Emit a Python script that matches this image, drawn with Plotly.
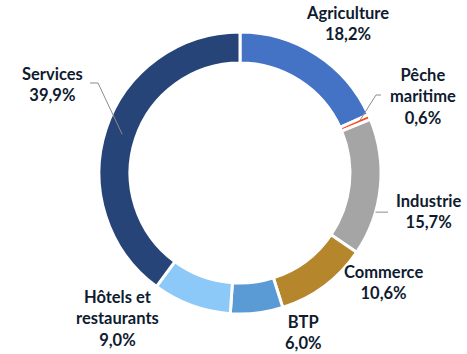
import math
import plotly.graph_objects as go

# Répartition par secteur (%)
secteurs = ["Agriculture", "Pêche maritime", "Industrie", "Commerce", "BTP",
            "Hôtels et restaurants", "Services"]
parts = [18.2, 0.6, 15.7, 10.6, 6.0, 9.0, 39.9]
couleurs = ["#4472C4", "#FF4B1F", "#A5A5A5", "#B5862C", "#5B9BD5",
            "#8CC8F8", "#264478"]
# Libellés affichés (nom sur une ou deux lignes)
noms_affiches = ["Agriculture", "Pêche<br>maritime", "Industrie", "Commerce",
                 "BTP", "Hôtels et<br>restaurants", "Services"]

W, H = 467, 354
CX, CY, R = 240, 173, 141          # centre et rayon de l'anneau (px)
HOLE = 0.78

fig = go.Figure(go.Pie(
    labels=secteurs,
    values=parts,
    sort=False,
    direction="clockwise",
    rotation=0,
    hole=HOLE,
    marker=dict(colors=couleurs, line=dict(color="white", width=3)),
    textinfo="none",
    hoverinfo="label+percent",
    showlegend=False,
    domain=dict(x=[(CX - R) / W, (CX + R) / W],
                y=[1 - (CY + R) / H, 1 - (CY - R) / H]),
))


def fmt(v):
    return f"{v:.1f}".replace(".", ",") + "%"


# Position du texte (centre, px) pour chaque secteur
pos_texte = [(347, 23), (423, 97), (428, 211), (383, 282), (303, 332),
             (117, 318), (52, 85)]

TXT = "#0F1B30"
for nom, v, (tx, ty) in zip(noms_affiches, parts, pos_texte):
    fig.add_annotation(
        x=tx / W, y=1 - ty / H, xref="paper", yref="paper",
        text=f"<b>{nom}<br>{fmt(v)}</b>", showarrow=False,
        font=dict(family="Lato", size=16.5, color=TXT, weight=900),
        align="center", xanchor="center", yanchor="middle",
    )


# Lignes de rappel : point sur l'anneau calculé à partir des angles des parts
def point_anneau(idx, frac, rayon):
    debut = sum(parts[:idx]) / 100 * 360
    ang = math.radians(debut + frac * parts[idx] / 100 * 360)
    return CX + rayon * math.sin(ang), CY - rayon * math.cos(ang)


def ligne(points):
    path = "M " + " L ".join(f"{x / W},{1 - y / H}" for x, y in points)
    fig.add_shape(type="path", path=path, xref="paper", yref="paper",
                  line=dict(color="#8C8C8C", width=1))


# Pêche maritime
px_, py_ = point_anneau(1, 0.5, 130)
ligne([(px_, py_), (376, 95), (381, 95)])
# Industrie
ix, iy = point_anneau(2, 0.68, R)
ligne([(ix, iy), (388, iy)])
# Services
sx, sy = point_anneau(6, 0.5, 124)
ligne([(sx, sy), (98, 83), (90, 83)])

fig.update_layout(
    width=W, height=H,
    margin=dict(l=0, r=0, t=0, b=0),
    paper_bgcolor="white", plot_bgcolor="white",
)

fig.write_html("out.html")
